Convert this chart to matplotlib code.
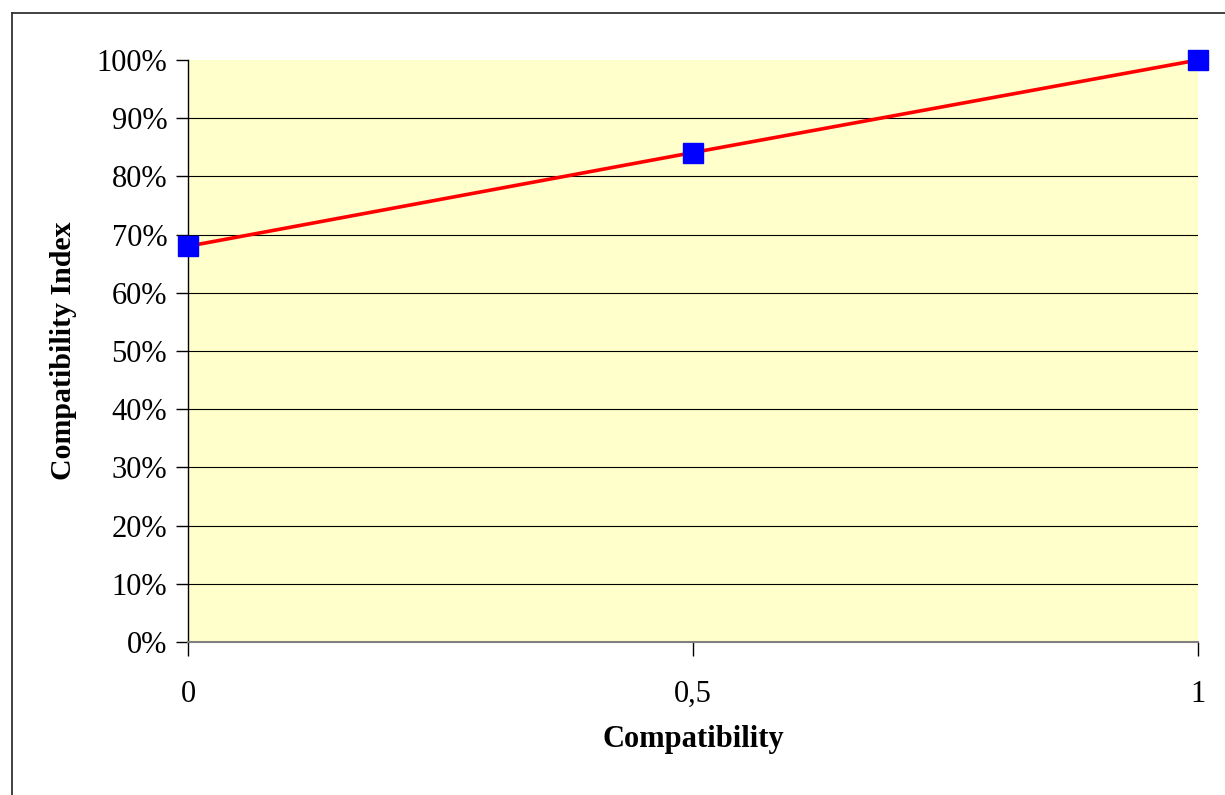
import matplotlib.pyplot as plt
from matplotlib.lines import Line2D
from matplotlib.ticker import FuncFormatter

compat = [0, 0.5, 1]
index = [0.68, 0.841, 1.0]
xtick_labels = ['0', '0,5', '1']
yticks = [i / 10 for i in range(11)]

plt.rcParams['font.family'] = ['Liberation Serif', 'DejaVu Serif']

W, H = 1225, 795
fig = plt.figure(figsize=(W / 100, H / 100), dpi=100)
ax = fig.add_axes([188 / W, 1 - 642 / H, (1198 - 188) / W, (642 - 60) / H])
ax.set_facecolor('#FFFFCC')

# outer chart frame (left and top edges only visible)
fig.add_artist(Line2D([12 / W, 12 / W], [0, 1 - 13 / H], color='#333333', lw=1.3))
fig.add_artist(Line2D([12 / W, 1], [1 - 13 / H, 1 - 13 / H], color='#333333', lw=1.3))

# gridlines (none drawn at 100%)
for y in yticks[1:-1]:
    ax.axhline(y, color='black', lw=0.8, zorder=1)

ax.plot(compat, index, color='#FF0000', lw=2.6, zorder=3, clip_on=False)
ax.plot(compat, index, ls='none', marker='s', ms=15, color='#0000FF',
        mec='#0000FF', zorder=4, clip_on=False)

ax.set_xlim(0, 1)
ax.set_ylim(0, 1)
ax.set_xticks(compat)
ax.set_xticklabels(xtick_labels)
ax.set_yticks(yticks)
ax.yaxis.set_major_formatter(FuncFormatter(lambda v, p: f"{round(v * 100)}%"))

for s in ['top', 'right']:
    ax.spines[s].set_visible(False)
ax.spines['left'].set_color('black')
ax.spines['left'].set_linewidth(1.0)
ax.spines['bottom'].set_color('#808080')
ax.spines['bottom'].set_linewidth(1.5)

ax.tick_params(axis='y', direction='out', length=9, width=1, labelsize=22, pad=6)
ax.tick_params(axis='x', direction='out', length=10, width=1, labelsize=22, pad=17)

ax.set_xlabel('Compatibility', fontsize=22, fontweight='bold', labelpad=12)
ax.set_ylabel('Compatibility Index', fontsize=21.5, fontweight='bold', labelpad=14)

fig.savefig('out.png', dpi=100)
